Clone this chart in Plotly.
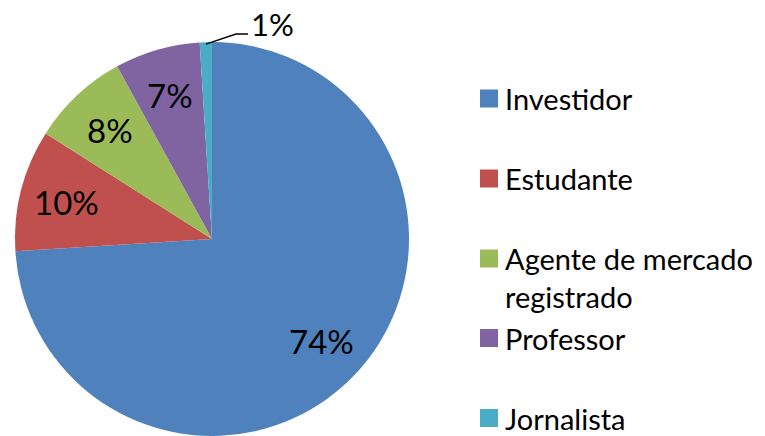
import math
import plotly.graph_objects as go

categories = ["Investidor", "Estudante", "Agente de mercado registrado", "Professor", "Jornalista"]
legend_lines = [["Investidor"], ["Estudante"], ["Agente de mercado", "registrado"], ["Professor"], ["Jornalista"]]
values = [74, 10, 8, 7, 1]
colors = ["#4F81BD", "#C0504D", "#9BBB59", "#8064A2", "#4BACC6"]

W, H = 765, 436
FONT = "Lato"

# pie placement (pixels)
CX, CY, R = 212, 239, 197
dom_x = [(CX - R) / W, (CX + R) / W]
dom_y = [0, 1 - (CY - R) / H]

fig = go.Figure()
fig.add_trace(go.Pie(
    labels=categories,
    values=values,
    sort=False,
    direction="clockwise",
    rotation=0,
    marker=dict(colors=colors, line=dict(width=0)),
    textinfo="none",
    domain=dict(x=dom_x, y=dom_y),
    showlegend=False,
    hoverinfo="label+percent",
))

# data labels placed at each slice's mid-angle
total = sum(values)
cum = 0
for i, v in enumerate(values):
    mid = (cum + v / 2) / total * 2 * math.pi
    cum += v
    pct = f"{round(v / total * 100)}%"
    if i < len(values) - 1:
        r = 0.76 * R
        px = CX + r * math.sin(mid)
        py = CY - r * math.cos(mid)
        fig.add_annotation(x=px / W, y=1 - py / H, xref="paper", yref="paper",
                           text=pct, showarrow=False, xanchor="center", yanchor="middle",
                           font=dict(family=FONT, size=33, color="black"))
    else:
        # small slice: outside label with leader line
        ex = CX + R * math.sin(mid)
        ey = CY - R * math.cos(mid)
        fig.add_shape(type="path", xref="paper", yref="paper",
                      path=f"M {ex / W},{1 - (ey + 2) / H} L {236 / W},{1 - 34 / H} L {248 / W},{1 - 34 / H}",
                      line=dict(color="black", width=1.5))
        fig.add_annotation(x=249 / W, y=1 - 24 / H, xref="paper", yref="paper",
                           text=pct, showarrow=False, xanchor="left", yanchor="middle",
                           font=dict(family=FONT, size=31, color="black"))

# legend
leg_y = [98.5, 178.5, 258.5, 338, 418]
LINE = 38
for lines, col, y in zip(legend_lines, colors, leg_y):
    fig.add_shape(type="rect", xref="paper", yref="paper",
                  x0=480 / W, x1=498 / W, y0=1 - (y + 9) / H, y1=1 - (y - 9) / H,
                  fillcolor=col, line=dict(width=0))
    for k, t in enumerate(lines):
        fig.add_annotation(x=503 / W, y=1 - (y + k * LINE) / H, xref="paper", yref="paper",
                           text=t, showarrow=False, xanchor="left", yanchor="middle",
                           align="left", font=dict(family=FONT, size=29, color="black"))

fig.update_layout(
    width=W, height=H,
    margin=dict(l=0, r=0, t=0, b=0),
    paper_bgcolor="white", plot_bgcolor="white",
)
fig.write_html("out.html", config={"displayModeBar": False},
               post_script="document.body.style.margin='0';")
